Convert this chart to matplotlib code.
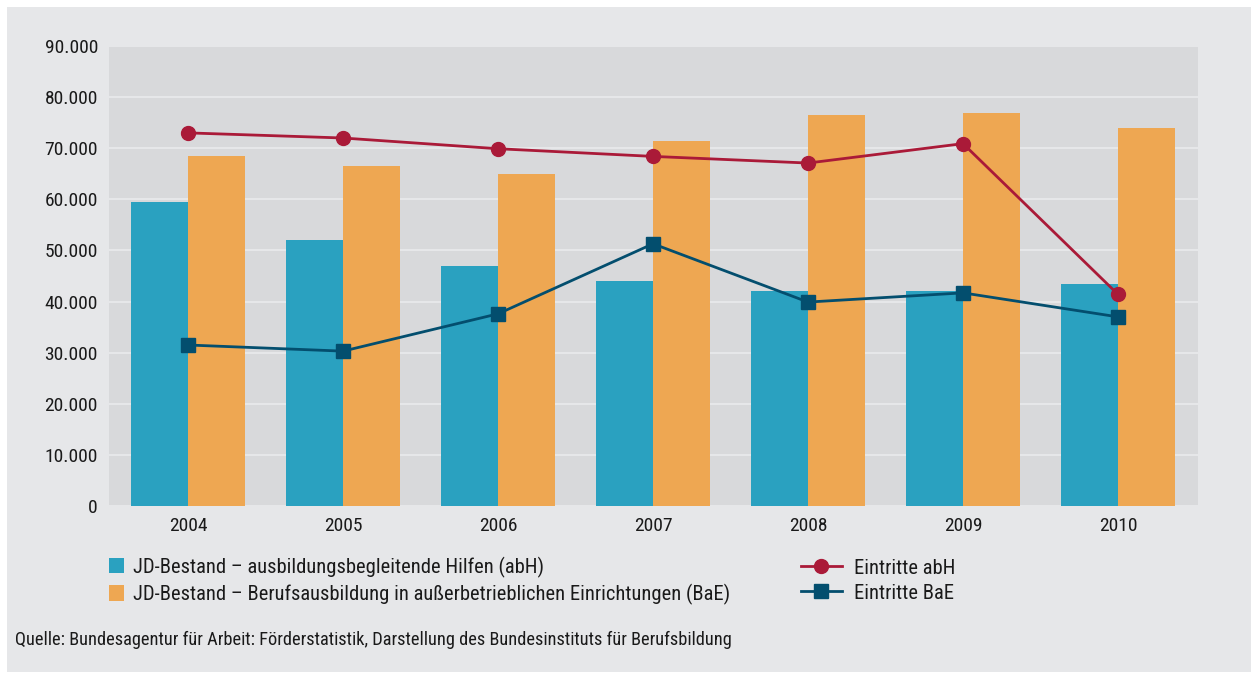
import matplotlib.pyplot as plt
import numpy as np
from matplotlib import font_manager
from matplotlib.patches import Rectangle, Patch
from matplotlib.lines import Line2D
from matplotlib.ticker import FuncFormatter

# ── Data ────────────────────────────────────────────────────────────────
years = ["2004", "2005", "2006", "2007", "2008", "2009", "2010"]
bestand_abh = [59400, 52000, 47000, 44000, 42000, 42100, 43400]
bestand_bae = [68500, 66500, 65000, 71400, 76500, 76900, 74000]
eintritte_abh = [73000, 72000, 69900, 68400, 67100, 70900, 41400]
eintritte_bae = [31500, 30300, 37600, 51300, 39900, 41700, 37000]

# ── Colours ─────────────────────────────────────────────────────────────
TEAL = "#2AA1C0"
ORANGE = "#EEA752"
RED = "#AA1A38"
NAVY = "#034E6E"
OUTER_BG = "#E6E7E9"
PLOT_BG = "#D8D9DB"
GRID = "#EAEBEC"
TXT = "#1a1a1a"

# condensed font, first one that is installed
installed = {f.name for f in font_manager.fontManager.ttflist}
for cand in ["Roboto Condensed", "Archivo Narrow", "Barlow Semi Condensed",
             "Asap Condensed", "Liberation Sans"]:
    if cand in installed:
        FONT = cand
        break
plt.rcParams["font.family"] = [FONT, "DejaVu Sans"]

fig = plt.figure(figsize=(12.51, 6.74), dpi=100)
fig.patch.set_facecolor("white")
fig.patches.append(Rectangle((7 / 1251, 0.003), 1 - 7 / 1251, 1 - 7 / 674 - 0.003,
                             transform=fig.transFigure, facecolor=OUTER_BG,
                             edgecolor="none", zorder=-5))

ax = fig.add_axes([109 / 1251, 1 - 506 / 674, (1198 - 109) / 1251, (506 - 46) / 674])
ax.set_facecolor(PLOT_BG)

x = np.arange(len(years))
w = 0.37
ax.bar(x - w / 2, bestand_abh, width=w, color=TEAL, zorder=2)
ax.bar(x + w / 2, bestand_bae, width=w, color=ORANGE, zorder=2)
ax.plot(x, eintritte_abh, color=RED, lw=2, marker="o", ms=10, zorder=3)
ax.plot(x, eintritte_bae, color=NAVY, lw=2, marker="s", ms=10, zorder=3)

ax.set_xlim(-0.51, 6.516)
ax.set_ylim(0, 90000)
ax.set_yticks(np.arange(0, 90001, 10000))
ax.yaxis.set_major_formatter(FuncFormatter(lambda v, p: f"{int(v):,}".replace(",", ".")))
ax.set_xticks(x)
ax.set_xticklabels(years)
ax.tick_params(length=0, labelsize=14, colors=TXT)
ax.tick_params(axis="y", pad=8)
ax.tick_params(axis="x", pad=8)
ax.grid(axis="y", color=GRID, lw=1.2, zorder=1)
for s in ax.spines.values():
    s.set_visible(False)

# ── Legends ─────────────────────────────────────────────────────────────
h_bars = [Patch(facecolor=TEAL, label="JD-Bestand – ausbildungsbegleitende Hilfen (abH)"),
          Patch(facecolor=ORANGE, label="JD-Bestand – Berufsausbildung in außerbetrieblichen Einrichtungen (BaE)")]
fig.legend(handles=h_bars, loc="upper left", bbox_to_anchor=(90 / 1251, 1 - 538 / 674),
           frameon=False, fontsize=14.8, handlelength=0.75, handleheight=0.75,
           handletextpad=0.45, labelspacing=0.3, labelcolor=TXT)

h_lines = [Line2D([], [], color=RED, lw=2, marker="o", ms=10, label="Eintritte abH"),
           Line2D([], [], color=NAVY, lw=2, marker="s", ms=10, label="Eintritte BaE")]
fig.legend(handles=h_lines, loc="upper left", bbox_to_anchor=(782 / 1251, 1 - 540 / 674),
           frameon=False, fontsize=14.8, handlelength=2.0, handletextpad=0.6,
           labelspacing=0.3, labelcolor=TXT)

fig.text(15 / 1251, 1 - 640 / 674,
         "Quelle: Bundesagentur für Arbeit: Förderstatistik, Darstellung des Bundesinstituts für Berufsbildung",
         fontsize=13.2, color=TXT, va="center", ha="left")

fig.savefig("out.png", dpi=100, facecolor="white")
